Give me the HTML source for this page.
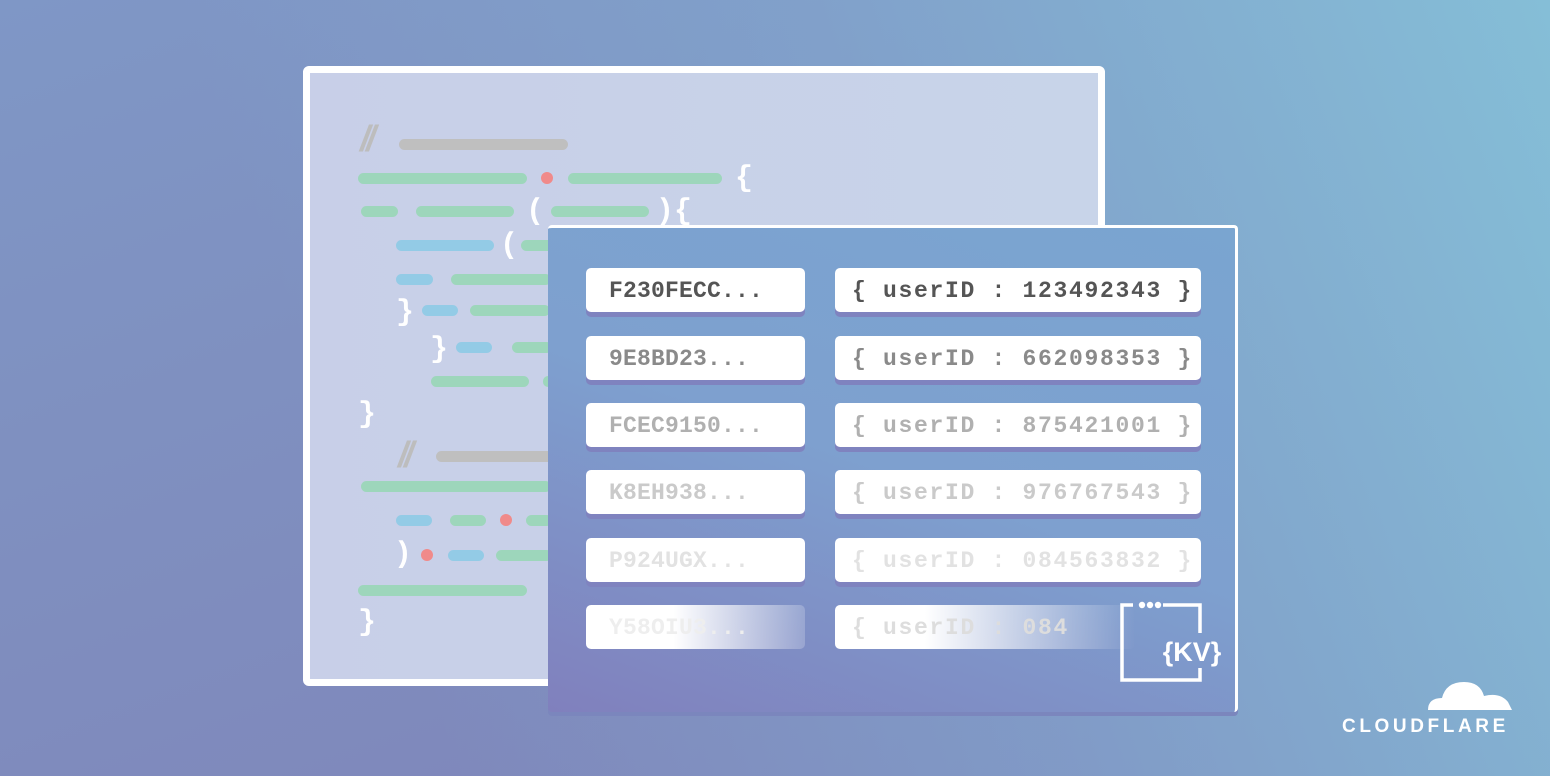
<!DOCTYPE html>
<html><head><style>
body{margin:0;width:1550px;height:776px;overflow:hidden;position:relative;font-family:"Liberation Sans",sans-serif;
background:linear-gradient(160deg,#7f97c6 0%,#7f90c0 35%,#7f82b8 100%);}
.bg2{position:absolute;inset:0;background:linear-gradient(250deg,rgba(133,190,215,1) 0%,rgba(130,170,208,0.6) 40%,rgba(130,160,200,0) 75%);}
.win{position:absolute;left:303px;top:66px;width:788px;height:606px;border:7px solid #fff;border-radius:6px;background:linear-gradient(90deg,#c8cfe8,#c8d4e9);}
.b{position:absolute;height:11px;border-radius:6px;}
.g{background:#9dd6bb}.c{background:#93cbe6}.gr{background:#bfbfbf}
.dot{position:absolute;width:12px;height:12px;border-radius:50%;background:#f08a8a}
.sym{position:absolute;color:#fff;font:bold 30px "Liberation Mono",monospace;line-height:30px}
.sl{position:absolute;color:#bdbdbd;font:italic bold 36px "Liberation Sans",sans-serif;letter-spacing:-4px}
.kv{position:absolute;left:548px;top:225px;width:687px;height:484px;border-top:3px solid #fff;border-right:3px solid #fff;border-radius:4px;
background:linear-gradient(200deg,#7aa5d0 0%,#7ea0cf 50%,#8080bd 100%);box-shadow:0 4px 0 #7b86bd;}
.k{position:absolute;height:44px;background:#fff;border-radius:5px;box-shadow:0 5px 0 #7f83bf;font:bold 23px "Liberation Mono",monospace;letter-spacing:1.7px;line-height:46px;box-sizing:border-box;white-space:nowrap;overflow:hidden}
.l{letter-spacing:0.2px}
</style></head><body>
<div class="bg2"></div>
<div class="win"></div>
<span class="sl" style="left:360px;top:118px">//</span>
<div class="b gr" style="left:399px;top:139px;width:169px"></div>
<div class="b g" style="left:358px;top:173px;width:169px"></div>
<div class="dot" style="left:541px;top:172px"></div>
<div class="b g" style="left:568px;top:173px;width:154px"></div>
<span class="sym" style="left:735px;top:164px">{</span>
<div class="b g" style="left:361px;top:206px;width:37px"></div>
<div class="b g" style="left:416px;top:206px;width:98px"></div>
<span class="sym" style="left:526px;top:197px">(</span>
<div class="b g" style="left:551px;top:206px;width:98px"></div>
<span class="sym" style="left:656px;top:197px">){</span>
<div class="b c" style="left:396px;top:240px;width:98px"></div>
<span class="sym" style="left:500px;top:231px">(</span>
<div class="b g" style="left:521px;top:240px;width:40px"></div>
<div class="b c" style="left:396px;top:274px;width:37px"></div>
<div class="b g" style="left:451px;top:274px;width:100px"></div>
<span class="sym" style="left:396px;top:298px">}</span>
<div class="b c" style="left:422px;top:305px;width:36px"></div>
<div class="b g" style="left:470px;top:305px;width:80px"></div>
<span class="sym" style="left:430px;top:335px">}</span>
<div class="b c" style="left:456px;top:342px;width:36px"></div>
<div class="b g" style="left:512px;top:342px;width:40px"></div>
<div class="b g" style="left:431px;top:376px;width:98px"></div>
<div class="b g" style="left:543px;top:376px;width:10px"></div>
<span class="sym" style="left:358px;top:400px">}</span>
<span class="sl" style="left:398px;top:434px">//</span>
<div class="b gr" style="left:436px;top:451px;width:120px"></div>
<div class="b g" style="left:361px;top:481px;width:190px"></div>
<div class="b c" style="left:396px;top:515px;width:36px"></div>
<div class="b g" style="left:450px;top:515px;width:36px"></div>
<div class="dot" style="left:500px;top:514px"></div>
<div class="b g" style="left:526px;top:515px;width:26px"></div>
<span class="sym" style="left:394px;top:540px">)</span>
<div class="dot" style="left:421px;top:549px"></div>
<div class="b c" style="left:448px;top:550px;width:36px"></div>
<div class="b g" style="left:496px;top:550px;width:56px"></div>
<div class="b g" style="left:358px;top:585px;width:169px"></div>
<span class="sym" style="left:358px;top:608px">}</span>
<div class="kv"></div>
<div class="k l" style="left:586px;top:268px;width:219px;padding-left:23px;color:#555">F230FECC...</div>
<div class="k" style="left:835px;top:268px;width:366px;padding-left:17px;color:#555">{ userID : 123492343 }</div>
<div class="k l" style="left:586px;top:336px;width:219px;padding-left:23px;color:#8a8a8a">9E8BD23...</div>
<div class="k" style="left:835px;top:336px;width:366px;padding-left:17px;color:#8a8a8a">{ userID : 662098353 }</div>
<div class="k l" style="left:586px;top:403px;width:219px;padding-left:23px;color:#b0b0b0">FCEC9150...</div>
<div class="k" style="left:835px;top:403px;width:366px;padding-left:17px;color:#b0b0b0">{ userID : 875421001 }</div>
<div class="k l" style="left:586px;top:470px;width:219px;padding-left:23px;color:#cacaca">K8EH938...</div>
<div class="k" style="left:835px;top:470px;width:366px;padding-left:17px;color:#cacaca">{ userID : 976767543 }</div>
<div class="k l" style="left:586px;top:538px;width:219px;padding-left:23px;color:#e2e2e2">P924UGX...</div>
<div class="k" style="left:835px;top:538px;width:366px;padding-left:17px;color:#e2e2e2">{ userID : 084563832 }</div>
<div class="k l" style="left:586px;top:605px;width:219px;padding-left:23px;color:#eee;background:linear-gradient(90deg,#fff,#fff 40%,rgba(255,255,255,.2));box-shadow:none">Y58OIU3...</div>
<div class="k" style="left:835px;top:605px;width:300px;padding-left:17px;color:#ddd;background:linear-gradient(90deg,#fff,#fff 30%,rgba(255,255,255,0));box-shadow:none">{ userID : 084</div>
<svg style="position:absolute;left:1118px;top:598px;overflow:visible" width="110" height="90" viewBox="0 0 110 90">
<path d="M15 7 H4 V82 H82 V70 M82 35 V7 H45" fill="none" stroke="#fff" stroke-width="3.5"/>
<circle cx="24" cy="7" r="3.2" fill="#fff"/><circle cx="32" cy="7" r="3.2" fill="#fff"/><circle cx="40" cy="7" r="3.2" fill="#fff"/>
<text x="74" y="63" font-family="Liberation Sans" font-weight="bold" font-size="27" fill="#fff" text-anchor="middle">{KV}</text>
</svg>
<svg style="position:absolute;left:1420px;top:674px" width="100" height="50" viewBox="0 0 100 50">
<path d="M8 36 Q8 24 22 24 Q26 8 44 8 Q60 8 64 22 Q80 18 88 28 Q91 34 92 36 Z" fill="#fff"/>
</svg>
<div style="position:absolute;left:1342px;top:716px;color:#fff;font:bold 19px 'Liberation Sans',sans-serif;letter-spacing:3.6px">CLOUDFLARE</div>
</body></html>
